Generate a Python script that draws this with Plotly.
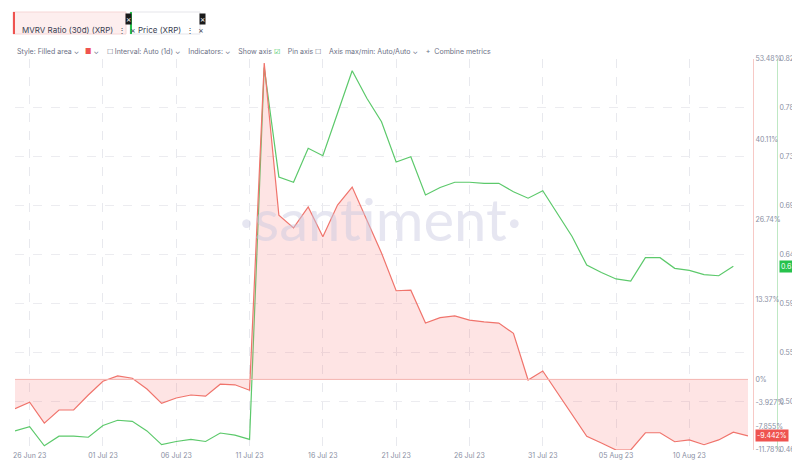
import pandas as pd
import plotly.graph_objects as go

# daily points, 25 Jun 2023 onward
dates = pd.date_range("2023-06-25", periods=51, freq="D")

# MVRV ratio (30d), percent
mvrv = [-4.9, -3.8, -7.3, -5.1, -5.1, -2.6, -0.3, 0.6, 0.2, -1.6, -4.0, -3.1, -2.6,
        -2.8, -0.8, -0.9, -1.8, 52.8, 27.4, 25.3, 28.8, 23.8, 29.1, 32.1, 26.6, 21.1,
        14.8, 14.9, 9.4, 10.3, 10.6, 9.9, 9.6, 9.4, 7.7, -0.1, 1.4, -2.3, -5.9, -9.5,
        -10.6, -11.78, -11.78, -8.9, -8.9, -10.4, -10.1, -10.9, -10.1, -8.8, -9.442]

# XRP price, USD (last day missing)
price = [0.479, 0.483, 0.465, 0.474, 0.474, 0.473, 0.484, 0.489, 0.488, 0.479, 0.466,
         0.469, 0.471, 0.469, 0.477, 0.475, 0.471, 0.821, 0.718, 0.713, 0.745, 0.738,
         0.778, 0.818, 0.792, 0.770, 0.732, 0.737, 0.701, 0.708, 0.713, 0.713, 0.712,
         0.712, 0.704, 0.698, 0.705, 0.684, 0.662, 0.635, 0.628, 0.622, 0.620, 0.642,
         0.642, 0.632, 0.630, 0.626, 0.625, 0.634]

mvrv_ticks = [-11.78, -7.855, -3.927, 0, 13.37, 26.74, 40.11, 53.48]
mvrv_tick_text = ["-11.78%", "-7.855%", "-3.927%", "0%", "13.37%", "26.74%", "40.11%", "53.48%"]
price_ticks = [0.461, 0.507, 0.553, 0.599, 0.645, 0.691, 0.737, 0.783, 0.829]
date_ticks = pd.date_range("2023-06-26", "2023-08-15", freq="5D")

RED = "#f0746c"
GREEN = "#5cc96b"
GREY = "#8a8fa3"

# plot area in pixels: x 7..740, y 51..442 (paper spans the full width with zero margins)
def py(ypix):
    return (442 - ypix) / 391

def px(xpix):
    return xpix / 800

fig = go.Figure()

fig.add_trace(go.Scatter(
    x=dates, y=mvrv, mode="lines", line=dict(color=RED, width=1.2),
    fill="tozeroy", fillcolor="rgba(250,120,120,0.2)", yaxis="y", hoverinfo="skip"))
fig.add_trace(go.Scatter(
    x=dates[:len(price)], y=price, mode="lines", line=dict(color=GREEN, width=1.2),
    yaxis="y2", hoverinfo="skip"))

fig.update_layout(
    width=800, height=460, showlegend=False,
    paper_bgcolor="white", plot_bgcolor="white",
    margin=dict(l=0, r=0, t=51, b=18, autoexpand=False),
    font=dict(family="Inter, Roboto, sans-serif", size=7, color=GREY),
    xaxis=dict(domain=[px(7), px(740)], range=[dates[0], dates[-1]], automargin=False,
               tickvals=list(date_ticks), tickformat="%d %b %y",
               showgrid=True, gridcolor="#e8e9ee", griddash="dash",
               showline=False, ticks="", zeroline=False),
    yaxis=dict(side="right", anchor="free", position=px(745), overlaying="y2",
               range=[-11.78, 53.48], tickvals=mvrv_ticks, ticktext=mvrv_tick_text,
               showgrid=False, zeroline=False, showline=True, linecolor="#f7c9c6",
               ticks="", automargin=False),
    yaxis2=dict(side="right", anchor="free", position=px(769), automargin=False,
                range=[0.461, 0.829], tickvals=price_ticks, tickformat=".3f",
                showgrid=True, gridcolor="#ececf0", griddash="dash",
                zeroline=False, showline=True, linecolor="#bfe8c4", ticks=""),
)

# zero line of the filled area
fig.add_shape(type="line", xref="x", yref="y", x0=dates[0], x1=dates[-1],
              y0=0, y1=0, line=dict(color="#f5b5b0", width=1))

# watermark
fig.add_annotation(x=px(372), y=py(210), xref="paper", yref="paper", text="·santiment·",
                   showarrow=False, font=dict(size=58, color="rgba(200,200,225,0.45)",
                                              family="Lato, sans-serif"))

# last value badges
fig.add_annotation(x=px(771), y=price[-1], xref="paper", yref="y2", text="0.634",
                   xanchor="left", showarrow=False, bgcolor="#27c24c",
                   font=dict(color="white", size=7), borderpad=1)
fig.add_annotation(x=px(747), y=mvrv[-1], xref="paper", yref="y", text="-9.442%",
                   xanchor="left", showarrow=False, bgcolor="#ef5350",
                   font=dict(color="white", size=7), borderpad=1)

# metric chips at the top
fig.add_shape(type="rect", xref="paper", yref="paper", x0=px(5), x1=px(118),
              y0=py(26), y1=py(4), fillcolor="#fdeeee", line=dict(color="#f6d6d6", width=1))
fig.add_shape(type="line", xref="paper", yref="paper", x0=px(6), x1=px(6),
              y0=py(26), y1=py(4), line=dict(color="#ef5350", width=2))
fig.add_shape(type="rect", xref="paper", yref="paper", x0=px(122), x1=px(192),
              y0=py(26), y1=py(4), fillcolor="white", line=dict(color="#e5e5ea", width=1))
fig.add_shape(type="line", xref="paper", yref="paper", x0=px(123), x1=px(123),
              y0=py(26), y1=py(4), line=dict(color="#27c24c", width=2))
fig.add_annotation(x=px(12), y=py(15), xref="paper", yref="paper", xanchor="left",
                   text="MVRV Ratio (30d) (XRP)  ⋮  ×", showarrow=False,
                   font=dict(size=8, color="#3a3f52"))
fig.add_annotation(x=px(128), y=py(15), xref="paper", yref="paper", xanchor="left",
                   text="Price (XRP)  ⋮  ×", showarrow=False,
                   font=dict(size=8, color="#3a3f52"))
for cx in (117, 191):
    fig.add_annotation(x=px(cx), y=py(5), xref="paper", yref="paper", text="×",
                       showarrow=False, bgcolor="#1a1a1a", borderpad=0,
                       font=dict(size=8, color="white"))

toolbar = ("Style: Filled area ⌄   <span style='color:#ef5350'>■</span> ⌄    "
           "☐ Interval: Auto (1d) ⌄    Indicators: ⌄    Show axis "
           "<span style='color:#27c24c'>☑</span>    Pin axis ☐    "
           "Axis max/min: Auto/Auto ⌄    +  Combine metrics")
fig.add_annotation(x=px(7), y=py(37), xref="paper", yref="paper", xanchor="left",
                   text=toolbar, showarrow=False, font=dict(size=7, color="#6b7085"))

fig.write_html("out.html")
